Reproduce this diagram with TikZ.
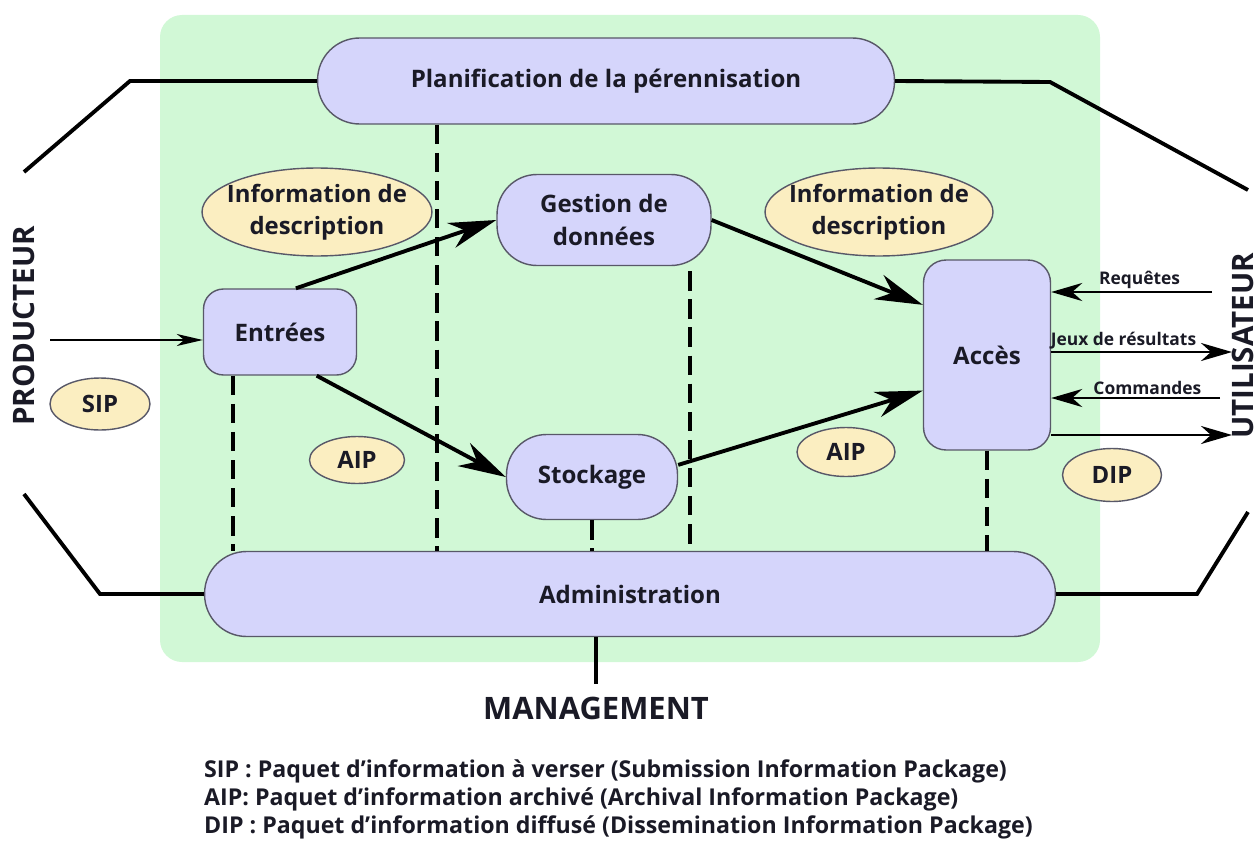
\documentclass[tikz,border=0pt]{standalone}
\usepackage{fontspec}
\setmainfont{Open Sans}
\usetikzlibrary{arrows.meta,shapes.geometric}

\definecolor{ink}{RGB}{26,26,38}
\definecolor{bggreen}{RGB}{209,248,214}
\definecolor{lavender}{RGB}{213,213,251}
\definecolor{cream}{RGB}{251,238,193}
\definecolor{edge}{RGB}{88,88,104}

\tikzset{
    box/.style={draw=edge, line width=0.8pt, fill=lavender, text=ink, inner sep=0pt,
        align=center, font=\bfseries\fontsize{13.7}{18.5}\selectfont},
    tag/.style={ellipse, draw=edge, line width=0.8pt, fill=cream, text=ink, inner sep=0pt,
        align=center, font=\bfseries\fontsize{13.6}{18.5}\selectfont},
    side/.style={text=ink, font=\bfseries\fontsize{16.8}{19}\selectfont},
    lbl/.style={text=ink, inner sep=1pt, font=\bfseries\fontsize{9.9}{11}\selectfont},
    link/.style={line width=2.2pt},
    dashline/.style={line width=2.2pt, dash pattern=on 11pt off 5pt},
    flow/.style={line width=2.2pt, -{Stealth[length=0.95cm, width=0.52cm, inset=0.3cm]}},
    reply/.style={line width=1.7pt, -{Stealth[length=0.62cm, width=0.36cm, inset=0.2cm]}},
    feed/.style={line width=1.2pt, -{Stealth[length=0.52cm, width=0.24cm, inset=0.15cm]}}
}

\begin{document}
\begin{tikzpicture}[x=0.02cm, y=-0.02cm]
        \useasboundingbox (0,0) rectangle (1260,848);
        \fill[bggreen, rounded corners=0.44cm] (160,15) rectangle (1100,662);

        \node[box, minimum width=11.54cm, minimum height=1.72cm, rounded corners=0.84cm] (plan) at (606,81) {Planification de la pérennisation};
        \node[box, minimum width=17.02cm, minimum height=1.70cm, rounded corners=0.84cm] (admin) at (630,594) {Administration};
        \node[box, minimum width=4.28cm, minimum height=1.82cm, rounded corners=0.8cm] (gestion) at (604,220) {Gestion de\\données};
        \node[box, minimum width=3.06cm, minimum height=1.72cm, rounded corners=0.4cm] (entrees) at (280,332) {Entrées};
        \node[box, minimum width=3.42cm, minimum height=1.70cm, rounded corners=0.8cm] (stockage) at (592,477) {Stockage};
        \node[box, minimum width=2.54cm, minimum height=3.80cm, rounded corners=0.45cm] (acces) at (987,355) {Accès};

        \node[tag, inner xsep=-0.19cm, inner ysep=-0.05cm, minimum width=4.6cm, minimum height=1.76cm] (descl) at (317,212) {Information de\\description};
        \node[tag, inner xsep=-0.19cm, inner ysep=-0.05cm, minimum width=4.56cm, minimum height=1.76cm] (descr) at (879,212) {Information de\\description};
        \node[tag, minimum width=2.0cm, minimum height=1.04cm] (sip) at (100,404) {SIP};
        \node[tag, minimum width=1.9cm, minimum height=0.94cm] (aipl) at (357,460) {AIP};
        \node[tag, minimum width=1.96cm, minimum height=0.98cm] (aipr) at (846,452) {AIP};
        \node[tag, minimum width=1.98cm, minimum height=1.06cm] (dip) at (1112,475) {DIP};

        \node[side, rotate=90] (prod) at (24,326) {PRODUCTEUR};
        \node[side, rotate=90] (util) at (1243,346) {UTILISATEUR};
        \node[text=ink, font=\bfseries\fontsize{17.6}{20}\selectfont] (mgmt) at (596,708) {MANAGEMENT};

        \draw[link] (plan.west) -- (130,81) -- (24,172);
        \draw[link] (plan.east) -- (1050,82) -- (1248,190);
        \draw[link] (admin.west) -- (100,594) -- (24,494);
        \draw[link] (admin.east) -- (1197,594) -- (1248,512);
        \draw[link] (admin.south -| mgmt.north) -- ([yshift=0.12cm]mgmt.north);

        \coordinate (cut) at (437,0);
        \coordinate (ent) at (233,0);
        \coordinate (ges) at (690,0);
        \draw[dashline] (plan.south -| cut) -- (admin.north -| cut);
        \draw[dashline] (entrees.south -| ent) -- (admin.north -| ent);
        \draw[dashline] ([yshift=-0.1cm]gestion.south -| ges) -- (admin.north -| ges);
        \draw[dashline] (stockage.south) -- (admin.north -| stockage.south);
        \draw[dashline] (acces.south) -- (admin.north -| acces.south);

        \coordinate (src) at (50,340);
        \draw[feed] (src) -- (entrees.west |- src);

        \draw[flow] (entrees.70) -- (gestion.west);
        \draw[flow] (entrees.-50) -- (stockage.west);
        \draw[flow] (gestion.east) -- (acces.142);
        \draw[flow] (stockage.8) -- (acces.209);

        \coordinate (req) at (1212,292);
        \coordinate (jeu) at (1232,352);
        \coordinate (cmd) at (1220,398);
        \coordinate (out) at (1232,435);
        \draw[reply] (req) -- node[lbl, above, pos=0.45] {Requêtes} (acces.east |- req);
        \draw[reply] (acces.east |- jeu) -- node[lbl, above, pos=0.40] {Jeux de résultats} (jeu);
        \draw[reply] (cmd) -- node[lbl, above, pos=0.43] {Commandes} (acces.east |- cmd);
        \draw[reply] (acces.east |- out) -- (out);

        \node[anchor=north west, align=left, text=ink, font=\bfseries\fontsize{13.2}{15.9}\selectfont] (legend) at (198,754)
            {SIP : Paquet d’information à verser (Submission Information Package)\\
             AIP: Paquet d’information archivé (Archival Information Package)\\
             DIP : Paquet d’information diffusé (Dissemination Information Package)};
    \end{tikzpicture}
\end{document}
